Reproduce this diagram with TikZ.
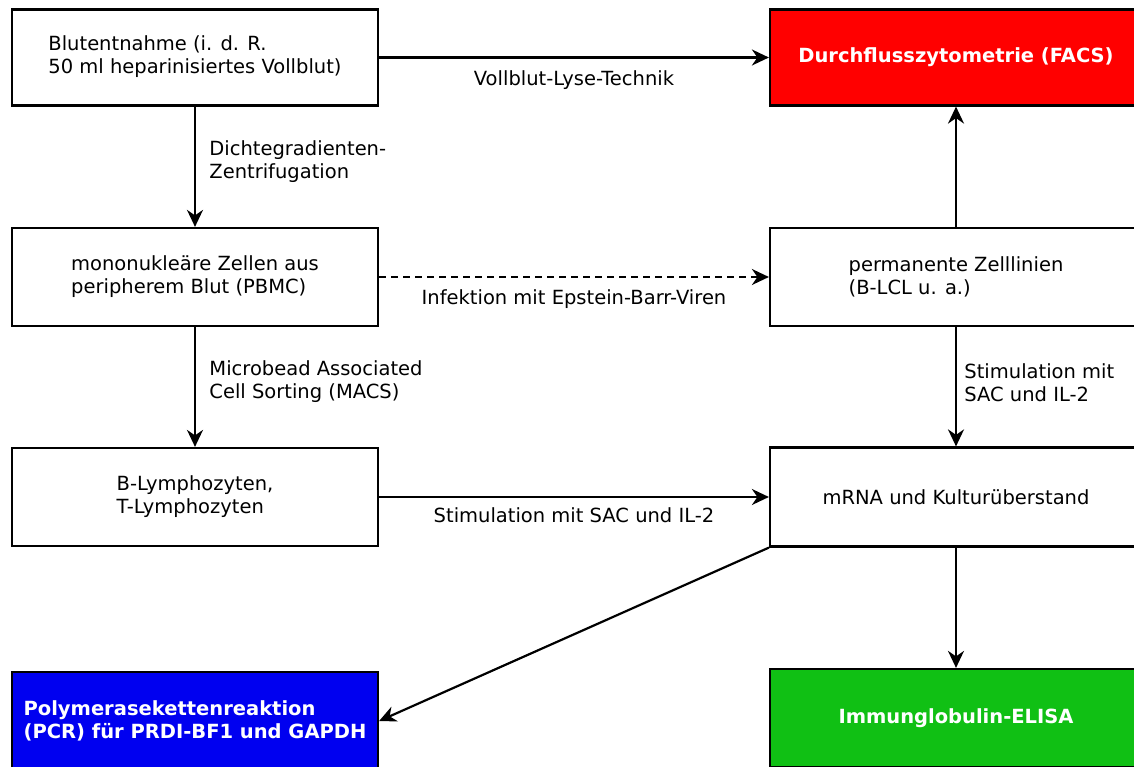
\documentclass[tikz,border=0pt]{standalone}
\usepackage{fontspec}
\setmainfont{DejaVu Sans}
\usetikzlibrary{arrows.meta}
\definecolor{facsred}{RGB}{255,0,0}
\definecolor{pcrblue}{RGB}{0,0,240}
\definecolor{elisagreen}{RGB}{16,192,20}
\begin{document}
\begin{tikzpicture}[x=1pt,y=-1pt,
  every node/.style={font=\fontsize{19.5}{23}\selectfont},
  box/.style={draw=black, line width=2.2pt, fill=white, align=left, inner sep=0pt},
  lbox/.style={box, minimum width=366pt, minimum height=96pt},
  rbox/.style={box, minimum width=372pt, minimum height=96pt},
  hot/.style={text=white, font=\fontsize{19.5}{23}\selectfont\bfseries},
  arr/.style={line width=2.2pt, -{Stealth[length=17pt,width=16pt,inset=5.5pt]}},
  lbl/.style={align=left}
]
\useasboundingbox (0,0) rectangle (1134,767);

\node[lbox] (b1) at (195,57.5) {\raisebox{2pt}{\begin{tabular}{@{}l@{}}Blutentnahme (i. d. R.\\50 ml heparinisiertes Vollblut)\end{tabular}}};
\node[lbox, minimum height=98pt] (pbmc) at (195,277) {mononukleäre Zellen aus\\peripherem Blut (PBMC)};
\node[lbox, minimum height=98pt] (lymph) at (195,497) {B-Lymphozyten,\\T-Lymphozyten};
\node[lbox, minimum height=98pt, fill=pcrblue, hot] (pcr) at (195,721) {Polymerasekettenreaktion\\(PCR) für PRDI-BF1 und GAPDH};

\node[rbox, fill=facsred, hot] (facs) at (956,57.5) {Durchflusszytometrie (FACS)};
\node[rbox, minimum height=98pt] (perm) at (956,277) {permanente Zelllinien\\(B-LCL u. a.)};
\node[rbox, minimum height=99pt] (mrna) at (956,497) {mRNA und Kulturüberstand};
\node[rbox, minimum height=98pt, fill=elisagreen, hot] (elisa) at (956,718) {Immunglobulin-ELISA};

\draw[arr] (b1.east) -- node[lbl, below=9pt] {Vollblut-Lyse-Technik} (facs.west);
\draw[arr] (b1.south) -- node[lbl, right=10pt, yshift=5pt] {Dichtegradienten-\\Zentrifugation} (pbmc.north);
\draw[arr, dash pattern=on 7pt off 5pt] (pbmc.east) -- node[lbl, below=8pt] {Infektion mit Epstein-Barr-Viren} (perm.west);
\draw[arr] (pbmc.south) -- node[lbl, right=10pt, yshift=5pt] {Microbead Associated\\Cell Sorting (MACS)} (lymph.north);
\draw[arr] (perm.north) -- (facs.south);
\draw[arr] (perm.south) -- node[lbl, right=4pt, yshift=4pt] {Stimulation mit\\SAC und IL-2} (mrna.north);
\draw[arr] (lymph.east) -- node[lbl, below=6pt] {Stimulation mit SAC und IL-2} (mrna.west);
\draw[arr] (mrna.south west) -- (pcr.east);
\draw[arr] (mrna.south) -- (elisa.north);
\end{tikzpicture}
\end{document}
